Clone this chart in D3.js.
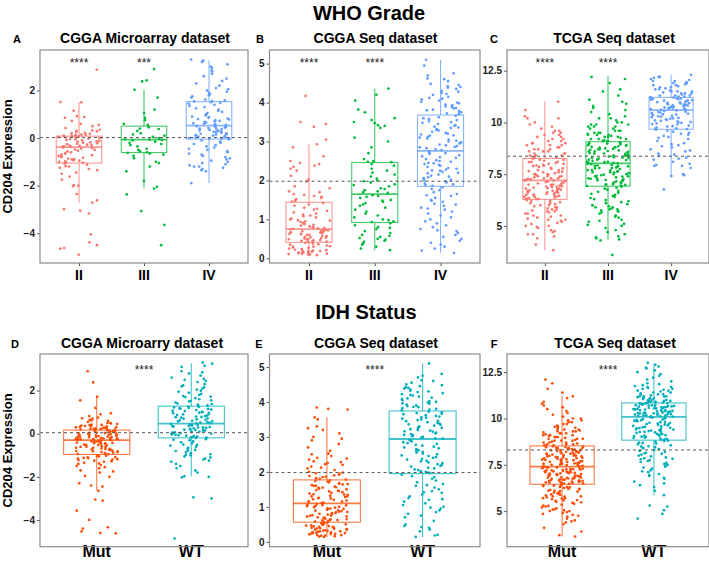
<!DOCTYPE html>
<html><head><meta charset="utf-8">
<script src="https://cdn.jsdelivr.net/npm/d3@7"></script>
<style>body{margin:0;background:#fff}svg{display:block}text{font-family:"Liberation Sans",Arial,sans-serif}</style>
</head><body>
<script>
// ---------- categories & labels ----------
const gradeCats = ["II", "III", "IV"];
const idhCats = ["Mut", "WT"];
const gradeColors = ["#F8766D", "#00BA38", "#619CFF"];
const idhColors = ["#FC4E07", "#00AFBB"];
const panelTitles = ["CGGA Microarray dataset", "CGGA Seq dataset", "TCGA Seq dataset", "CGGA Microarry dataset", "CGGA Seq dataset", "TCGA Seq dataset"];
const panelLetters = ["A", "B", "C", "D", "E", "F"];
const rowTitles = ["WHO Grade", "IDH Status"];
const yTitle = "CD204 Expression";

// ---------- axes ----------
const A_domain = [-5.25, 3.7], B_domain = [-0.12, 5.35], C_domain = [3.21, 13.5];
const D_domain = [-5.24, 3.7], E_domain = [-0.14, 5.37], F_domain = [3.08, 13.48];
const micro_ticks = [-4, -2, 0, 2];
const seq_ticks = [0, 1, 2, 3, 4, 5];
const tcga_ticks = [5, 7.5, 10, 12.5];

// reference (dashed) lines
const hlines = [0.02, 1.98, 8.37, 0.05, 1.98, 8.3];

// significance labels
const A_stars = ["****", "***", ""], B_stars = ["****", "****", ""], C_stars = ["****", "****", ""];
const D_stars = ["****"], E_stars = ["****"], F_stars = ["****"];

// ---------- box statistics [lower whisker, Q1, median, Q3, upper whisker] ----------
const A_box = [[-2.71, -1.05, -0.38, 0.08, 1.51], [-2.12, -0.61, -0.07, 0.5, 2.03], [-1.89, -0.04, 0.52, 1.53, 3.26]];
const B_box = [[0.08, 0.41, 0.75, 1.44, 2.93], [0.21, 0.92, 1.65, 2.46, 4.36], [0.14, 1.85, 2.76, 3.68, 5.1]];
const C_box = [[3.83, 6.28, 7.2, 8.26, 11.03], [4.31, 6.92, 8.02, 9.07, 12.24], [7.41, 9.67, 10.6, 11.21, 12.3]];
const D_box = [[-2.65, -0.96, -0.3, 0.17, 1.7], [-1.97, -0.19, 0.47, 1.28, 3.27]];
const E_box = [[0.14, 0.56, 1.1, 1.77, 3.56], [0.14, 1.95, 2.94, 3.74, 5.1]];
const F_box = [[3.63, 6.45, 7.4, 8.52, 11.23], [5.86, 8.83, 10.09, 10.84, 13.0]];

// ---------- sample values ----------
const A_II = [2.87,1.51,1.5,1.15,0.92,0.88,0.85,0.72,0.6,0.55,0.5,0.42,0.35,0.32,0.3,0.28,0.25,0.22,0.2,0.18,0.15,0.14,0.12,0.1,0.09,
0.07,0.05,0.04,0.02,0.0,-0.02,-0.04,-0.06,-0.08,-0.1,-0.12,-0.14,-0.16,-0.18,-0.2,-0.22,-0.24,-0.26,-0.28,-0.3,-0.32,-0.33,-0.35,-0.36,-0.37,
-0.4,-0.42,-0.45,-0.48,-0.5,-0.53,-0.56,-0.6,-0.63,-0.66,-0.7,-0.72,-0.75,-0.78,-0.8,-0.83,-0.86,-0.88,-0.9,-0.93,-0.95,-0.98,-1.0,-1.02,-1.04,
-1.08,-1.12,-1.18,-1.25,-1.3,-1.45,-1.5,-1.62,-1.75,-1.98,-2.0,-2.02,-2.35,-2.62,-2.71,-2.99,-3.05,-3.17,-4.05,-4.38,-4.5,-4.62,-4.65,-4.9,-1.2,-1.35];
const A_III = [2.9,2.42,2.38,2.03,1.7,1.2,1.05,0.85,0.75,0.6,0.55,0.45,0.4,0.38,0.3,0.2,0.15,0.1,0.05,0.0,-0.02,-0.05,-0.07,-0.08,-0.1,-0.15,-0.2,-0.25,-0.3,-0.35,-0.45,-0.5,-0.55,-0.6,-0.62,-0.65,-0.7,-0.75,-0.85,-1.0,-1.05,-1.2,-1.4,-1.8,-2.05,-2.12,-2.37,-3.07,-3.65,-4.5];
const A_IV = [3.3,3.25,3.2,3.1,3.0,2.95,2.85,2.8,2.7,2.6,2.5,2.4,2.3,2.2,2.1,2.05,2.0,1.95,1.9,1.85,1.8,1.75,1.7,1.62,1.58,1.55,1.54,
1.5,1.48,1.45,1.4,1.35,1.3,1.25,1.2,1.15,1.1,1.05,1.0,0.98,0.95,0.9,0.88,0.85,0.82,0.8,0.78,0.75,0.72,0.7,0.68,0.65,0.62,0.6,0.58,0.55,0.53,
0.5,0.48,0.46,0.44,0.42,0.4,0.38,0.36,0.34,0.32,0.3,0.28,0.26,0.24,0.22,0.2,0.18,0.16,0.14,0.12,0.1,0.08,0.06,0.04,0.02,0.0,-0.01,-0.02,-0.03,0.45,
-0.06,-0.1,-0.15,-0.2,-0.25,-0.3,-0.35,-0.4,-0.45,-0.5,-0.55,-0.6,-0.65,-0.7,-0.75,-0.8,-0.85,-0.9,-0.95,-1.0,-1.05,-1.1,-1.15,-1.2,-1.25,-1.3,-1.35,-1.4,-1.2,-1.89];
const B_II = [4.17,3.5,3.45,3.38,3.05,2.93,2.85,2.62,2.5,2.45,2.42,2.38,2.35,2.3,2.25,2.02,1.98,1.85,1.72,1.65,1.6,1.55,1.52,1.48,1.46,1.8,2.12,1.58,1.63,1.7,
1.42,1.38,1.35,1.3,1.27,1.22,1.18,1.15,1.12,1.08,1.05,1.02,1.0,0.98,0.95,0.93,0.9,0.88,0.86,0.84,0.82,0.8,0.79,0.78,0.77,0.76,1.25,1.1,0.97,0.91,
0.74,0.73,0.72,0.71,0.7,0.69,0.68,0.66,0.65,0.63,0.62,0.6,0.58,0.57,0.55,0.54,0.52,0.51,0.5,0.49,0.48,0.47,0.46,0.45,0.44,0.43,0.42,0.6,0.67,0.53,
0.4,0.38,0.36,0.35,0.33,0.31,0.3,0.28,0.27,0.25,0.24,0.22,0.21,0.2,0.19,0.18,0.17,0.16,0.15,0.14,0.13,0.12,0.11,0.1,0.09,0.08,0.3,0.2,0.15,0.12];
const B_III = [4.36,4.2,4.05,3.82,3.75,3.6,3.55,3.5,3.47,3.42,3.4,3.35,3.1,2.85,2.7,2.55,2.5,2.48,2.47,3.0,
2.42,2.38,2.3,2.25,2.2,2.15,2.1,2.05,2.0,1.98,1.95,1.9,1.88,1.85,1.8,1.78,1.75,1.72,1.7,1.68,
1.62,1.6,1.58,1.55,1.5,1.48,1.45,1.42,1.38,1.35,1.3,1.25,1.2,1.15,1.1,1.05,1.0,0.98,0.95,0.93,
0.9,0.85,0.8,0.78,0.75,0.7,0.65,0.6,0.58,0.55,0.52,0.5,0.48,0.45,0.42,0.38,0.35,0.3,0.25,0.21];
const B_IV = [5.1,4.95,4.75,4.7,4.62,4.55,4.45,4.42,4.4,4.35,4.3,4.28,4.25,4.2,4.15,4.1,4.05,4.02,4.0,3.98,3.95,3.92,3.9,3.88,3.85,3.82,3.8,3.78,3.75,3.72,3.7,4.6,4.38,4.22,4.12,3.93,3.86,3.76,4.48,4.08,
3.66,3.62,3.6,3.58,3.55,3.5,3.48,3.45,3.42,3.4,3.38,3.35,3.32,3.3,3.28,3.25,3.22,3.2,3.18,3.15,3.12,3.1,3.08,3.05,3.02,3.0,2.98,2.95,2.92,2.9,2.88,2.85,2.83,2.8,2.78,3.52,3.36,3.16,2.96,2.86,
2.74,2.72,2.7,2.68,2.65,2.62,2.6,2.58,2.55,2.52,2.5,2.48,2.45,2.42,2.4,2.38,2.35,2.32,2.3,2.28,2.25,2.22,2.2,2.18,2.15,2.12,2.1,2.08,2.05,2.02,2.0,1.98,1.95,1.92,1.9,1.88,1.86,2.44,2.26,2.06,
1.82,1.78,1.75,1.7,1.65,1.6,1.55,1.5,1.48,1.45,1.4,1.35,1.3,1.28,1.25,1.2,1.15,1.1,1.05,1.0,0.95,0.9,0.85,0.8,0.75,0.7,0.65,0.6,0.55,0.5,0.45,0.4,0.35,0.3,0.25,0.2,0.14,1.62,1.38,0.72];
const C_II = [11.0,10.6,10.3,10.2,10.2,10.0,9.9,9.8,9.7,9.6,9.6,9.5,9.5,9.4,9.4,9.3,9.3,9.2,9.2,9.1,9.1,9.0,9.0,8.9,8.9,8.9,8.8,8.8,8.7,8.7,8.7,8.6,8.6,8.6,8.5,8.5,8.5,8.4,8.4,8.4,8.3,8.3,8.3,9.0,8.8,
8.25,8.2,8.2,8.15,8.1,8.1,8.05,8.0,8.0,7.95,7.9,7.9,7.85,7.8,7.8,7.75,7.7,7.7,7.65,7.6,7.6,7.55,7.5,7.5,7.5,7.45,7.4,7.4,7.4,7.35,7.3,7.3,7.3,7.25,7.25,7.2,7.2,7.22,7.28,7.38,7.48,7.62,7.78,7.92,8.08,
7.18,7.15,7.1,7.1,7.05,7.0,7.0,6.95,6.9,6.9,6.85,6.8,6.8,6.75,6.7,6.7,6.65,6.6,6.6,6.55,6.5,6.5,6.45,6.4,6.4,6.35,6.3,6.3,7.12,7.02,6.92,6.82,6.72,6.62,6.52,6.42,6.32,6.98,6.88,6.78,6.68,6.58,6.48,6.38,6.29,
6.25,6.2,6.2,6.1,6.1,6.0,6.0,5.9,5.9,5.8,5.8,5.7,5.7,5.6,5.6,5.5,5.5,5.4,5.3,5.3,5.2,5.1,5.0,5.0,4.9,4.8,4.7,4.6,4.6,4.5,4.4,4.1,3.83,6.15,6.05,5.95,5.85,5.75,5.65,5.45,5.25,4.95,4.75,5.15,5.35];
const C_III = [12.2,12.1,11.9,11.6,11.5,11.3,11.1,11.0,10.9,10.8,10.6,10.5,10.4,10.3,10.2,10.1,10.0,10.0,9.9,9.9,9.8,9.8,9.7,9.7,9.6,9.6,9.5,9.5,9.5,9.4,9.4,9.4,9.3,9.3,9.3,9.2,9.2,9.2,9.1,9.1,9.1,9.6,9.9,10.2,10.7,9.8,9.45,9.35,9.15,9.25,
9.05,9.0,9.0,8.95,8.9,8.9,8.85,8.8,8.8,8.75,8.7,8.7,8.65,8.6,8.6,8.55,8.5,8.5,8.45,8.4,8.4,8.35,8.3,8.3,8.25,8.2,8.2,8.15,8.1,8.1,8.05,8.05,8.03,8.98,8.88,8.78,8.68,8.58,8.48,8.38,8.28,8.18,8.08,8.92,8.82,8.72,8.62,8.52,8.42,8.32,
8.0,7.95,7.9,7.9,7.85,7.8,7.8,7.75,7.7,7.7,7.65,7.6,7.6,7.55,7.5,7.5,7.45,7.4,7.4,7.35,7.3,7.3,7.25,7.2,7.2,7.15,7.1,7.1,7.05,7.0,7.0,6.95,6.93,7.98,7.88,7.78,7.68,7.58,7.48,7.38,7.28,7.18,7.08,6.98,7.92,7.82,7.62,7.42,7.22,7.02,
6.9,6.85,6.8,6.75,6.7,6.6,6.5,6.4,6.3,6.2,6.1,6.0,6.0,5.9,5.9,5.8,5.8,5.7,5.7,5.6,5.5,5.4,5.3,5.2,5.1,5.0,4.9,4.8,4.7,4.6,4.5,4.4,4.3,3.6,6.65,6.55,6.45,6.35,6.25,6.15,6.05,5.95,5.85,5.75,5.65,5.45,5.25,5.05,4.45,4.35];
const C_IV = [12.3,12.2,12.2,12.1,12.0,12.0,11.9,11.9,11.8,11.8,11.7,11.7,11.6,11.6,11.5,11.5,11.5,11.4,11.4,11.4,11.3,11.3,11.3,11.25,11.25,11.22,12.05,11.95,11.85,11.75,11.65,11.55,11.45,11.35,12.15,
11.2,11.18,11.15,11.12,11.1,11.08,11.05,11.02,11.0,10.98,10.95,10.92,10.9,10.88,10.85,10.82,10.8,10.78,10.75,10.72,10.7,10.68,10.65,10.62,10.61,11.17,11.07,10.97,10.87,10.77,10.67,11.13,10.93,10.83,10.73,
10.58,10.55,10.5,10.45,10.4,10.35,10.3,10.25,10.2,10.15,10.1,10.05,10.0,9.95,9.9,9.85,9.8,9.75,9.7,9.68,10.52,10.42,10.32,10.22,10.12,10.02,9.92,9.82,9.72,10.48,10.38,10.28,10.18,10.08,9.98,
9.65,9.6,9.55,9.5,9.45,9.4,9.3,9.2,9.1,9.0,8.95,8.9,8.8,8.7,8.6,8.5,8.4,8.3,8.2,8.1,8.0,7.9,7.9,7.8,7.5,7.45,7.41,6.77,9.35,9.25,8.85,8.65,8.45,8.25,7.95];
const D_Mut = [2.9,2.38,1.72,1.55,0.9,0.82,0.75,0.7,0.65,0.6,0.55,0.5,0.48,0.45,0.42,0.4,0.38,0.36,0.34,0.32,0.3,0.28,0.26,0.25,0.24,0.22,0.21,0.2,0.19,0.18,0.35,0.5,0.62,0.3,0.41,0.27,0.23,1.2,0.95,0.72,
0.16,0.15,0.13,0.12,0.1,0.08,0.06,0.05,0.03,0.02,0.0,-0.02,-0.03,-0.05,-0.06,-0.08,-0.1,-0.11,-0.12,-0.14,-0.15,-0.16,-0.18,-0.19,-0.2,-0.21,-0.22,-0.23,-0.24,-0.25,-0.26,-0.27,-0.28,-0.29,-0.05,-0.15,-0.25,0.04,-0.13,-0.22,
-0.32,-0.34,-0.36,-0.38,-0.4,-0.42,-0.44,-0.46,-0.48,-0.5,-0.52,-0.55,-0.58,-0.6,-0.62,-0.65,-0.68,-0.7,-0.72,-0.75,-0.78,-0.8,-0.82,-0.85,-0.88,-0.9,-0.92,-0.94,-0.95,-0.35,-0.45,-0.55,-0.65,-0.75,-0.85,-0.41,-0.51,-0.61,-0.71,-0.81,
-1.0,-1.02,-1.05,-1.08,-1.1,-1.12,-1.15,-1.18,-1.2,-1.25,-1.3,-1.35,-1.4,-1.45,-1.5,-1.6,-1.7,-1.75,-1.8,-1.95,-2.0,-2.3,-2.4,-2.45,-2.65,-3.05,-3.1,-3.57,-4.0,-4.34,-4.4,-4.53,-4.6,-4.62,-1.22,-1.38,-1.55,-1.03,-1.13,-1.28];
const D_WT = [3.3,3.25,3.15,3.1,2.9,2.85,2.8,2.7,2.6,2.5,2.45,2.4,2.3,2.2,2.15,2.1,2.0,1.95,1.9,1.85,1.8,1.75,1.7,1.65,1.6,1.55,1.5,1.45,1.4,1.35,1.32,1.3,2.55,2.25,2.05,1.72,1.52,1.38,
1.26,1.24,1.22,1.2,1.17,1.15,1.12,1.1,1.07,1.05,1.02,1.0,0.97,0.95,0.92,0.9,0.87,0.85,0.82,0.8,0.77,0.75,0.72,0.7,0.67,0.65,0.62,0.6,0.57,0.55,0.52,0.5,0.49,0.48,1.18,0.98,0.78,0.58,
0.45,0.43,0.41,0.39,0.37,0.35,0.33,0.31,0.29,0.27,0.25,0.23,0.21,0.19,0.17,0.15,0.13,0.11,0.09,0.07,0.05,0.03,0.01,-0.01,-0.03,-0.05,-0.07,-0.09,-0.11,-0.13,-0.15,-0.17,-0.18,0.4,0.3,0.2,0.1,0.0,
-0.2,-0.25,-0.3,-0.35,-0.4,-0.45,-0.5,-0.55,-0.6,-0.65,-0.7,-0.75,-0.8,-0.85,-0.9,-0.95,-1.0,-1.05,-1.1,-1.15,-1.2,-1.3,-1.4,-1.5,-1.6,-1.7,-1.8,-1.97,-2.0,-2.02,-2.95,-3.0,-4.86,-0.28,-0.52,-0.78,-0.98,-1.25];
const E_Mut = [3.84,3.8,3.78,3.56,3.5,3.3,3.25,3.2,3.0,2.9,2.8,2.7,2.6,2.5,2.45,2.4,2.35,2.3,2.28,2.25,2.2,2.15,2.1,2.05,2.0,1.98,1.95,1.92,1.9,1.88,1.85,1.82,1.8,1.78,2.38,2.52,2.22,2.12,1.96,1.86,3.1,2.95,
1.76,1.74,1.72,1.7,1.68,1.66,1.64,1.62,1.6,1.58,1.56,1.54,1.52,1.5,1.48,1.46,1.44,1.42,1.4,1.38,1.36,1.34,1.32,1.3,1.28,1.26,1.24,1.22,1.2,1.18,1.16,1.14,1.12,1.11,1.65,1.55,1.45,1.35,1.25,1.15,1.6,1.3,
1.08,1.06,1.04,1.02,1.0,0.98,0.96,0.94,0.92,0.9,0.88,0.86,0.84,0.82,0.8,0.78,0.76,0.74,0.72,0.7,0.68,0.66,0.64,0.62,0.6,0.58,0.57,1.05,0.95,0.85,0.75,0.65,0.99,0.89,0.79,0.69,0.61,1.03,0.93,0.83,0.73,0.63,
0.55,0.53,0.51,0.5,0.48,0.46,0.45,0.43,0.42,0.4,0.39,0.38,0.36,0.35,0.34,0.33,0.32,0.31,0.3,0.29,0.28,0.27,0.26,0.25,0.24,0.23,0.22,0.21,0.2,0.19,0.18,0.17,0.16,0.15,0.14,0.44,0.37,0.41,0.47,0.52,0.3,0.25];
const E_WT = [5.1,4.8,4.75,4.7,4.62,4.55,4.5,4.45,4.42,4.4,4.38,4.35,4.32,4.3,4.25,4.2,4.15,4.12,4.1,4.05,4.02,4.0,3.98,3.95,3.92,3.9,3.88,3.85,3.82,3.8,3.78,3.76,4.6,4.28,4.18,4.08,3.96,3.86,4.48,4.22,
3.72,3.7,3.68,3.65,3.62,3.6,3.58,3.55,3.52,3.5,3.48,3.45,3.42,3.4,3.38,3.35,3.32,3.3,3.28,3.25,3.22,3.2,3.18,3.15,3.12,3.1,3.08,3.05,3.02,3.0,2.98,2.96,2.95,3.66,3.46,3.36,3.26,3.16,3.06,3.56,
2.92,2.9,2.87,2.85,2.82,2.8,2.77,2.75,2.72,2.7,2.67,2.65,2.62,2.6,2.57,2.55,2.52,2.5,2.47,2.45,2.42,2.4,2.37,2.35,2.32,2.3,2.27,2.25,2.22,2.2,2.17,2.15,2.12,2.1,2.07,2.05,2.02,2.0,1.98,1.96,
1.92,1.88,1.85,1.8,1.75,1.7,1.65,1.6,1.55,1.5,1.45,1.4,1.35,1.3,1.25,1.2,1.15,1.1,1.05,1.0,0.95,0.9,0.85,0.8,0.75,0.7,0.6,0.5,0.45,0.4,0.35,0.3,0.2,0.18,0.14,1.62,1.42,1.22,0.98,0.42];
const F_Mut = [12.1,11.9,11.6,11.4,11.2,11.1,10.9,10.8,10.6,10.5,10.4,10.3,10.2,10.1,10.0,10.0,9.9,9.9,9.8,9.8,9.7,9.7,9.6,9.6,9.5,9.5,9.4,9.4,9.4,9.3,9.3,9.3,9.2,9.2,9.2,9.1,9.1,9.1,9.0,9.0,9.0,8.9,8.9,8.9,8.8,8.8,8.8,8.7,8.7,8.7,8.6,8.6,8.6,8.55,8.55,9.05,9.15,9.25,9.35,8.95,8.85,8.75,8.65,9.55,10.7,
8.5,8.45,8.4,8.4,8.35,8.3,8.3,8.25,8.2,8.2,8.15,8.1,8.1,8.05,8.0,8.0,7.95,7.9,7.9,7.85,7.8,7.8,7.75,7.7,7.7,7.65,7.6,7.6,7.55,7.5,7.5,7.45,7.42,8.48,8.38,8.28,8.18,8.08,7.98,7.88,7.78,7.68,7.58,7.48,8.42,8.32,8.22,8.12,8.02,7.92,7.82,7.72,7.62,7.52,7.44,8.46,8.36,8.26,8.16,8.06,7.96,7.86,7.76,7.66,7.56,
7.38,7.35,7.3,7.3,7.25,7.2,7.2,7.15,7.1,7.1,7.05,7.0,7.0,6.95,6.9,6.9,6.85,6.8,6.8,6.75,6.7,6.7,6.65,6.6,6.6,6.55,6.5,6.5,6.47,7.36,7.26,7.16,7.06,6.96,6.86,6.76,6.66,6.56,6.48,7.32,7.22,7.12,7.02,6.92,6.82,6.72,6.62,6.52,7.34,7.24,7.14,7.04,6.94,6.84,6.74,6.64,6.54,7.28,7.18,7.08,6.98,6.88,6.78,6.68,6.58,
6.4,6.4,6.35,6.3,6.3,6.25,6.2,6.2,6.15,6.1,6.1,6.05,6.0,6.0,5.95,5.9,5.9,5.85,5.8,5.8,5.75,5.7,5.7,5.65,5.6,5.55,5.5,5.45,5.4,5.35,5.3,5.25,5.2,5.15,5.1,5.05,5.0,5.0,4.95,4.9,4.85,4.8,4.7,4.6,4.5,4.4,4.3,4.1,3.9,3.63,3.7,6.38,6.28,6.18,6.08,5.98,5.88,5.78,5.68,5.58,5.48,5.28,5.08,4.75,4.45];
const F_WT = [13.0,12.9,12.8,12.7,12.6,12.4,12.2,12.1,12.0,11.9,11.8,11.7,11.7,11.6,11.6,11.5,11.5,11.4,11.4,11.3,11.3,11.2,11.2,11.2,11.1,11.1,11.1,11.0,11.0,11.0,10.95,10.95,10.9,10.9,10.9,10.85,10.85,12.3,12.5,11.85,11.65,11.45,11.25,11.05,11.15,11.35,11.55,11.75,10.98,10.92,10.88,11.08,11.18,11.28,12.75,
10.82,10.8,10.78,10.75,10.72,10.7,10.68,10.65,10.62,10.6,10.58,10.55,10.52,10.5,10.48,10.45,10.42,10.4,10.38,10.35,10.32,10.3,10.28,10.25,10.22,10.2,10.18,10.15,10.12,10.1,10.81,10.71,10.61,10.51,10.41,10.31,10.21,10.11,10.77,10.67,10.57,10.47,10.37,10.27,10.17,10.74,10.64,10.54,10.44,10.34,10.24,10.14,10.69,10.49,10.29,
10.05,10.0,9.95,9.9,9.85,9.8,9.75,9.7,9.65,9.6,9.55,9.5,9.45,9.4,9.35,9.3,9.25,9.2,9.15,9.1,9.05,9.0,8.95,8.9,8.85,10.02,9.92,9.82,9.72,9.62,9.52,9.42,9.32,9.22,9.12,9.02,8.92,10.07,9.97,9.87,9.77,9.67,9.57,9.47,9.37,9.27,9.17,9.07,8.97,8.87,9.88,9.68,9.48,9.28,9.08,
8.8,8.75,8.7,8.6,8.5,8.45,8.4,8.3,8.2,8.15,8.1,8.0,7.9,7.85,7.8,7.7,7.6,7.55,7.5,7.4,7.3,7.2,7.1,7.0,6.9,6.8,6.6,6.5,6.3,6.1,5.86,5.3,5.25,5.05,4.85,4.6,8.65,8.55,8.35,8.25,8.05,7.95,7.75,7.65,7.45,7.35,7.15,6.95,6.75,6.4,8.78,8.68,8.48,8.12,7.82];

// ---------- panel assembly ----------
const W = 709, H = 562;
const rows = [{top: 50, bottom: 263, titleY: 20, panelTitleY: 43, starY: 66.5, xLabY: 280, xLabSize: 14},
              {top: 354, bottom: 546.7, titleY: 319, panelTitleY: 348, starY: 373.5, xLabY: 557, xLabSize: 16}];
const cols = [{left: 40, right: 248}, {left: 269.5, right: 480}, {left: 507, right: 709}];
const titleCx = [145, 375.5, 614, 142, 376, 615];
const letterX = [17, 260, 494, 15, 259, 494];

const panels = [
  {row: 0, col: 0, cats: gradeCats, colors: gradeColors, groups: [A_II, A_III, A_IV], box: A_box, domain: A_domain, ticks: micro_ticks, stars: A_stars},
  {row: 0, col: 1, cats: gradeCats, colors: gradeColors, groups: [B_II, B_III, B_IV], box: B_box, domain: B_domain, ticks: seq_ticks, stars: B_stars},
  {row: 0, col: 2, cats: gradeCats, colors: gradeColors, groups: [C_II, C_III, C_IV], box: C_box, domain: C_domain, ticks: tcga_ticks, stars: C_stars},
  {row: 1, col: 0, cats: idhCats, colors: idhColors, groups: [D_Mut, D_WT], box: D_box, domain: D_domain, ticks: micro_ticks, stars: D_stars},
  {row: 1, col: 1, cats: idhCats, colors: idhColors, groups: [E_Mut, E_WT], box: E_box, domain: E_domain, ticks: seq_ticks, stars: E_stars},
  {row: 1, col: 2, cats: idhCats, colors: idhColors, groups: [F_Mut, F_WT], box: F_box, domain: F_domain, ticks: tcga_ticks, stars: F_stars}
];

// deterministic jitter (layout only)
function jit(i, k) { const s = Math.sin((i + 1) * 12.9898 + k * 78.233) * 43758.5453; return s - Math.floor(s); }

const svg = d3.select("body").append("svg").attr("width", W).attr("height", H);
const fmt = v => (v < 0 ? "\u2212" + Math.abs(v) : String(v));

rowTitles.forEach((t, r) => {
  svg.append("text").attr("x", r === 0 ? 369 : 366).attr("y", rows[r].titleY).attr("text-anchor", "middle")
    .attr("font-size", 20).attr("font-weight", "bold").attr("fill", "#000").text(t);
});

panels.forEach((p, pi) => {
  const R = rows[p.row], C = cols[p.col];
  const x = d3.scalePoint().domain(p.cats).range([C.left, C.right]).padding(0.6);
  const y = d3.scaleLinear().domain(p.domain).range([R.bottom, R.top]);
  const bw = x.step() * 0.7;
  const jw = 21;
  const g = svg.append("g");

  // title & letter
  svg.append("text").attr("x", titleCx[pi]).attr("y", R.panelTitleY).attr("text-anchor", "middle")
    .attr("font-size", 14).attr("font-weight", "bold").text(panelTitles[pi]);
  svg.append("text").attr("x", letterX[pi]).attr("y", R.panelTitleY).attr("text-anchor", "middle")
    .attr("font-size", 11).attr("font-weight", "bold").text(panelLetters[pi]);

  // y axis
  const ya = d3.axisLeft(y).tickValues(p.ticks).tickSize(3).tickPadding(2).tickFormat(fmt);
  const yg = g.append("g").attr("transform", `translate(${C.left},0)`).call(ya);
  yg.select(".domain").remove();
  yg.selectAll(".tick line").attr("stroke", "#555");
  yg.selectAll(".tick text").attr("font-size", 10).attr("font-weight", "bold").attr("fill", "#222")
    .attr("font-family", "Liberation Sans, Arial, sans-serif");

  // x axis
  const xa = d3.axisBottom(x).tickSize(3).tickPadding(2);
  const xg = g.append("g").attr("transform", `translate(0,${R.bottom})`).call(xa);
  xg.select(".domain").remove();
  xg.selectAll(".tick line").attr("stroke", "#555");
  xg.selectAll(".tick text").remove();
  p.cats.forEach(c => {
    g.append("text").attr("x", x(c)).attr("y", R.xLabY).attr("text-anchor", "middle")
      .attr("font-size", R.xLabSize).attr("font-weight", "bold").text(c);
  });

  // boxes
  p.cats.forEach((c, ci) => {
    const [lo, q1, md, q3, hi] = p.box[ci];
    const cx = x(c), col = p.colors[ci];
    const bg = g.append("g").attr("stroke", col).attr("fill", "none").attr("stroke-opacity", 0.75);
    bg.append("line").attr("x1", cx).attr("x2", cx).attr("y1", y(hi)).attr("y2", y(q3)).attr("stroke-width", 1.1);
    bg.append("line").attr("x1", cx).attr("x2", cx).attr("y1", y(q1)).attr("y2", y(lo)).attr("stroke-width", 1.1);
    bg.append("rect").attr("x", cx - bw / 2).attr("y", y(q3)).attr("width", bw).attr("height", y(q1) - y(q3)).attr("stroke-width", 1.1);
    bg.append("line").attr("x1", cx - bw / 2).attr("x2", cx + bw / 2).attr("y1", y(md)).attr("y2", y(md)).attr("stroke-width", 1.8);
  });

  // points
  p.groups.forEach((vals, ci) => {
    const cx = x(p.cats[ci]);
    g.append("g").selectAll("circle").data(vals).join("circle")
      .attr("cx", (v, i) => cx + (jit(i, pi * 3 + ci) * 2 - 1) * jw)
      .attr("cy", v => y(v)).attr("r", 1.35).attr("fill", p.colors[ci]);
  });

  // dashed reference line
  g.append("line").attr("x1", C.left).attr("x2", C.right).attr("y1", y(hlines[pi])).attr("y2", y(hlines[pi]))
    .attr("stroke", "#555").attr("stroke-width", 1).attr("stroke-dasharray", "3,3");

  // significance stars
  if (p.stars.length === p.cats.length) {
    p.stars.forEach((s, ci) => {
      if (s) g.append("text").attr("x", x(p.cats[ci])).attr("y", R.starY).attr("text-anchor", "middle")
        .attr("font-size", 12).attr("fill", "#222").text(s);
    });
  } else {
    const mid = (x(p.cats[0]) + x(p.cats[p.cats.length - 1])) / 2;
    g.append("text").attr("x", mid).attr("y", R.starY).attr("text-anchor", "middle")
      .attr("font-size", 12).attr("fill", "#222").text(p.stars[0]);
  }

  // panel border
  g.append("rect").attr("x", C.left).attr("y", R.top).attr("width", C.right - C.left).attr("height", R.bottom - R.top)
    .attr("fill", "none").attr("stroke", "#8a8a8a").attr("stroke-width", 1.2);

  // y title (left column)
  if (p.col === 0) {
    svg.append("text").attr("transform", `translate(12,${(R.top + R.bottom) / 2}) rotate(-90)`)
      .attr("text-anchor", "middle").attr("font-size", 13).attr("font-weight", "bold").text(yTitle);
  }
});
</script>
</body></html>
